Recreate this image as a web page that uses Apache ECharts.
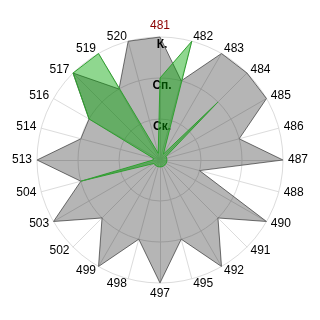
<!DOCTYPE html>
<html>
<head>
<meta charset="utf-8">
<script src="https://cdn.jsdelivr.net/npm/echarts@6/dist/echarts.min.js"></script>
<style>
html,body{margin:0;padding:0;background:#fff;}
#c{width:320px;height:320px;}
</style>
</head>
<body>
<div id="c"></div>
<script>
// Indicators listed clockwise starting at the top
var categories = ['481','482','483','484','485','486','487','488','490','491','492','495','497','498','499','502','503','504','513','514','516','517','519','520'];
var grayValues = [3,2,3,3,3,2,3,1,3,2,3,2,3,2,3,2,3,2,3,2,2,3,2,3];
var greenValues = [2,3,0.17,2,0.17,0.17,0.17,0.17,0.17,0.17,0.17,0.17,0.17,0.17,0.17,0.17,0.17,2,0.17,0.17,2,3,3,0.17];
var levelLabels = ['', 'Ск.', 'Сп.', 'К.'];
var maxValue = 3;

// ECharts radar runs counter-clockwise: reorder so the picture reads clockwise
function ccw(arr){ return [arr[0]].concat(arr.slice(1).reverse()); }

var cats = ccw(categories);
var indicator = cats.map(function(n, i){
  var o = {name: n, min: 0, max: maxValue};
  if (i === 0) {
    o.color = '#8b0000';
    o.axisLabel = {
      show: true,
      formatter: function(v){ return levelLabels[Math.round(v)] || ''; },
      color: '#000',
      fontWeight: 'bold',
      fontSize: 12,
      fontFamily: 'Liberation Sans, Arial, sans-serif',
      align: 'center',
      verticalAlign: 'top',
      margin: -2,
      padding: [2,0,0,0]
    };
  }
  return o;
});

var chart = echarts.init(document.getElementById('c'), null, {renderer:'canvas'});
chart.setOption({
  animation: false,
  backgroundColor: '#fff',
  radar: {
    center: ['50%','50%'],
    radius: 123,
    startAngle: 90,
    splitNumber: 3,
    shape: 'circle',
    nameGap: 5,
    axisName: {color: '#000', fontSize: 12, fontFamily: 'Liberation Sans, Arial, sans-serif'},
    splitLine: {lineStyle: {color: '#dcdcdc', width: 1}},
    splitArea: {show: false},
    axisLine: {lineStyle: {color: '#dcdcdc', width: 1}},
    axisTick: {show: false},
    axisLabel: {show: false},
    indicator: indicator
  },
  series: [{
    type: 'radar',
    symbol: 'none',
    silent: true,
    data: [
      {value: ccw(grayValues),
       lineStyle: {color: '#7a7a7a', width: 1},
       areaStyle: {color: 'rgba(0,0,0,0.29)', opacity: 1}},
      {value: ccw(greenValues),
       lineStyle: {color: '#3f9f3f', width: 1},
       areaStyle: {color: 'rgba(0,165,0,0.44)', opacity: 1}}
    ]
  }]
});
</script>
</body>
</html>
